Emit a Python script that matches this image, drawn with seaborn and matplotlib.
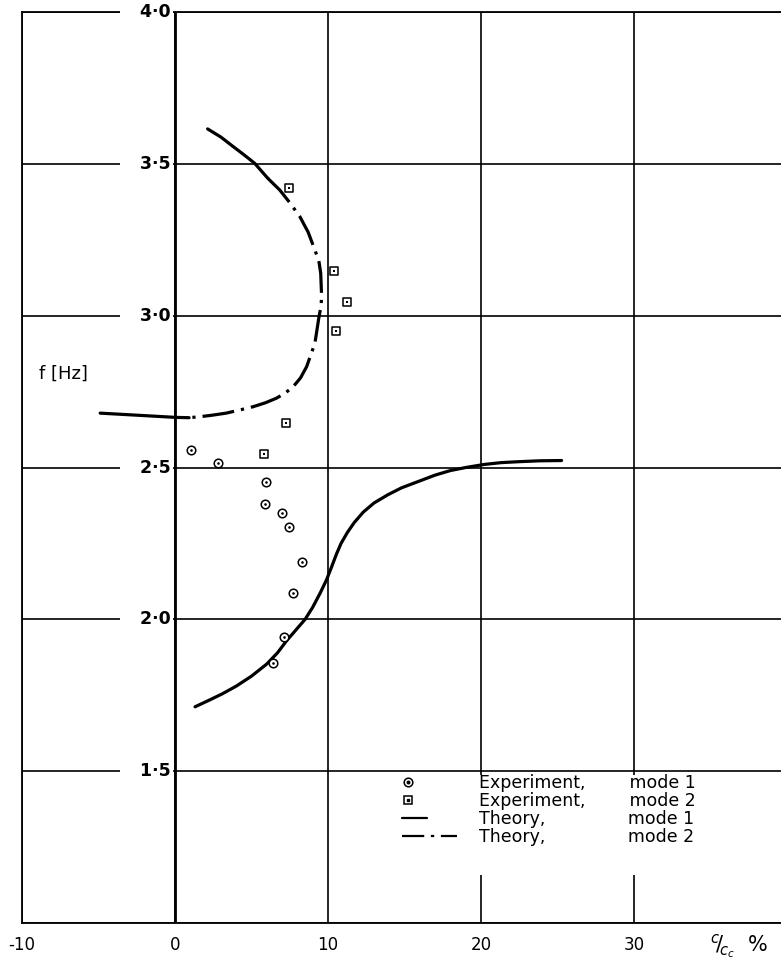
import matplotlib
matplotlib.use("Agg")
import matplotlib.pyplot as plt
from matplotlib.lines import Line2D
from matplotlib.patches import Rectangle
from matplotlib.legend_handler import HandlerBase, HandlerLine2D, HandlerTuple
import seaborn as sns

# ---- data ---------------------------------------------------------------
# Experiment, mode 1  (damping ratio c/cc in %, frequency in Hz)
exp1_c = [1.03, 2.78, 5.92, 5.88, 7.02, 7.45, 8.33, 7.68, 7.13, 6.40]
exp1_f = [2.558, 2.514, 2.453, 2.379, 2.349, 2.305, 2.189, 2.088, 1.941, 1.856]

# Experiment, mode 2
exp2_c = [5.79, 7.26, 10.53, 11.23, 10.41, 7.43]
exp2_f = [2.544, 2.648, 2.951, 3.046, 3.148, 3.419]

# Theory, mode 1
th1_c = [1.31, 2.2, 3.1, 4.0, 5.0, 6.0, 6.7, 7.3, 7.9, 8.5, 9.0, 9.5, 9.9,
         10.25, 10.55, 10.85, 11.25, 11.7, 12.3, 13.0, 13.9, 14.8, 15.9, 17.0,
         18.0, 19.0, 20.2, 21.3, 22.4, 23.8, 25.26]
th1_f = [1.712, 1.733, 1.755, 1.780, 1.813, 1.853, 1.890, 1.930, 1.965, 2.000,
         2.040, 2.088, 2.130, 2.175, 2.215, 2.250, 2.285, 2.318, 2.353, 2.383,
         2.410, 2.433, 2.454, 2.475, 2.490, 2.500, 2.510, 2.516, 2.519, 2.522,
         2.523]

# Theory, mode 2 (upper tail, dash-dot loop, lower-left tail)
th2_top_c = [2.13, 3.0, 3.77, 4.5, 5.20, 6.07]
th2_top_f = [3.615, 3.588, 3.558, 3.530, 3.502, 3.452]
th2_mid_c = [6.07, 6.84, 7.5, 8.16, 8.7, 9.14, 9.40, 9.52, 9.58, 9.54, 9.41,
             9.14, 8.60, 8.2, 7.72, 7.2, 6.62, 5.9, 5.09, 4.2, 3.34, 2.4, 1.58,
             0.92]
th2_mid_f = [3.452, 3.414, 3.372, 3.326, 3.275, 3.216, 3.180, 3.140, 3.063,
             3.030, 2.997, 2.909, 2.832, 2.795, 2.766, 2.745, 2.728, 2.713,
             2.700, 2.689, 2.679, 2.672, 2.667, 2.664]
th2_tail_c = [0.92, 0.05, -2.40, -4.89]
th2_tail_f = [2.664, 2.665, 2.672, 2.679]

x_ticks = [-10, 0, 10, 20, 30]
x_tick_labels = ["-10", "0", "10", "20", "30"]
y_ticks = [1.0, 1.5, 2.0, 2.5, 3.0, 3.5, 4.0]
y_tick_labels = ["1·5", "2·0", "2·5", "3·0", "3·5", "4·0"]
y_label_vals = [1.5, 2.0, 2.5, 3.0, 3.5, 4.0]

legend_labels = ["Experiment," + " " * 8 + "mode 1",
                 "Experiment," + " " * 8 + "mode 2",
                 "Theory," + " " * 15 + "mode 1",
                 "Theory," + " " * 15 + "mode 2"]

# ---- style --------------------------------------------------------------
sns.set_style("white")
plt.rcParams["font.family"] = ["DejaVu Sans"]
plt.rcParams["axes.linewidth"] = 1.3
plt.rcParams["text.color"] = "black"
plt.rcParams["xtick.color"] = "black"
plt.rcParams["ytick.color"] = "black"
plt.rcParams["axes.labelcolor"] = "black"

W, H = 781, 968
fig = plt.figure(figsize=(W / 100, H / 100), dpi=100)
ax = fig.add_axes([22 / W, 1 - 923 / H, 759 / W, 911 / H])

ax.set_xlim(-10, 39.6)
ax.set_ylim(1.0, 4.0)
ax.set_xticks(x_ticks)
ax.set_xticklabels(x_tick_labels, fontsize=12, color="black")
ax.set_yticks(y_ticks)
ax.set_yticklabels([])
ax.tick_params(length=0, pad=9)
ax.grid(True, color="black", lw=1.2, zorder=0.5)
ax.set_axisbelow(True)
for side in ("left", "top", "bottom"):
    ax.spines[side].set_color("black")
    ax.spines[side].set_linewidth(1.3)
ax.spines["right"].set_visible(False)
ax.axvline(0, color="black", lw=2.0, zorder=0.6)

LW = 2.3
DASHDOT = (10, 2.2, 1, 2.2)

# theory curves
sns.lineplot(x=th1_c, y=th1_f, sort=False, estimator=None, color="black",
             lw=LW, ax=ax, zorder=3)
sns.lineplot(x=th2_top_c, y=th2_top_f, sort=False, estimator=None,
             color="black", lw=LW, ax=ax, zorder=3)
sns.lineplot(x=th2_mid_c, y=th2_mid_f, sort=False, estimator=None,
             color="black", lw=LW, ax=ax, zorder=3)
ax.lines[-1].set_dashes(DASHDOT)
sns.lineplot(x=th2_tail_c, y=th2_tail_f, sort=False, estimator=None,
             color="black", lw=LW, ax=ax, zorder=3)

# experimental points: open marker with a centre dot
sns.scatterplot(x=exp1_c, y=exp1_f, marker="o", s=38, facecolor="white",
                edgecolor="black", linewidth=1.1, ax=ax, zorder=4)
sns.scatterplot(x=exp1_c, y=exp1_f, marker="o", s=3.5, color="black",
                linewidth=0, ax=ax, zorder=5)
sns.scatterplot(x=exp2_c, y=exp2_f, marker="s", s=36, facecolor="white",
                edgecolor="black", linewidth=1.1, ax=ax, zorder=4)
sns.scatterplot(x=exp2_c, y=exp2_f, marker="s", s=3.5, color="black",
                linewidth=0, ax=ax, zorder=5)

# y tick labels sit on the zero line, blanking the grid behind them
for val, lab in zip(y_label_vals, y_tick_labels):
    ax.annotate("   " + lab, xy=(0, val), xytext=(-3, 0),
                textcoords="offset points", ha="right", va="center",
                fontsize=12.5, fontweight="bold", color="black", zorder=3,
                bbox=dict(fc="white", ec="none", pad=1.5),
                annotation_clip=False)

ax.text(-7.3, 2.81, "f [Hz]", fontsize=13, ha="center", va="center",
        color="black")
ax.text(0.945, -0.026, r"${}^{c}\!/\!{}_{c_c}$  %", transform=ax.transAxes,
        fontsize=15, ha="center", va="center", color="black")

# legend
ax.add_patch(Rectangle((0.478, 0.053), 0.522, 0.110, transform=ax.transAxes,
                       fc="white", ec="none", zorder=1))


class Narrow(HandlerBase):
    """Draw an inner handler in only a fraction of the handle box."""

    def __init__(self, inner, frac):
        super().__init__()
        self.inner = inner
        self.frac = frac

    def create_artists(self, legend, orig_handle, xdescent, ydescent,
                       width, height, fontsize, trans):
        return self.inner.create_artists(legend, orig_handle, xdescent,
                                         ydescent, width * self.frac, height,
                                         fontsize, trans)


h_c = (Line2D([], [], ls="none", marker="o", ms=6.2, mfc="white",
              mec="black", mew=1.1),
       Line2D([], [], ls="none", marker="o", ms=1.9, color="black"))
h_s = (Line2D([], [], ls="none", marker="s", ms=6.0, mfc="white",
              mec="black", mew=1.1),
       Line2D([], [], ls="none", marker="s", ms=1.9, color="black"))
h_t1 = Line2D([], [], color="black", lw=1.6)
h_t2 = Line2D([], [], color="black", lw=1.6, dashes=(10, 3, 1.5, 3))

leg = ax.legend([h_c, h_s, h_t1, h_t2], legend_labels,
                handler_map={h_c: Narrow(HandlerTuple(ndivide=1), 0.22),
                             h_s: Narrow(HandlerTuple(ndivide=1), 0.22),
                             h_t1: Narrow(HandlerLine2D(), 0.45)},
                loc="upper left", bbox_to_anchor=(0.5007, 0.1635),
                borderaxespad=0, borderpad=0, frameon=False,
                fontsize=12.5, handlelength=3.15, handletextpad=1.3,
                labelspacing=0.0, labelcolor="black")
leg.set_zorder(6)

fig.savefig("out.png", dpi=100)
